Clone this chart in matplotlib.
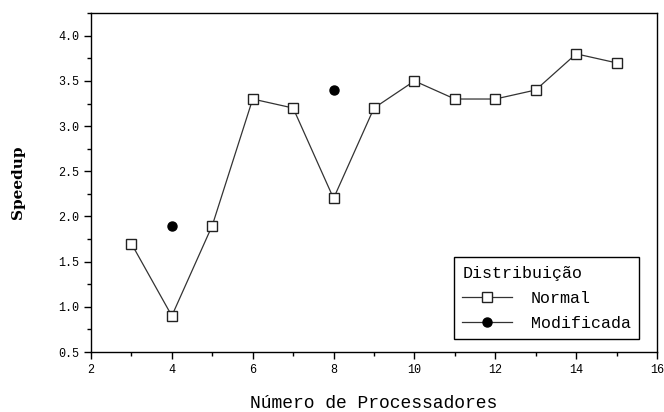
import matplotlib
matplotlib.use("Agg")
import matplotlib.pyplot as plt
from matplotlib.ticker import MultipleLocator

procs_normal = [3, 4, 5, 6, 7, 8, 9, 10, 11, 12, 13, 14, 15]
speedup_normal = [1.7, 0.9, 1.9, 3.3, 3.2, 2.2, 3.2, 3.5, 3.3, 3.3, 3.4, 3.8, 3.7]
procs_mod = [4, 8]
speedup_mod = [1.9, 3.4]

MONO = "Liberation Mono"

fig = plt.figure(figsize=(6.64, 4.12), dpi=100)
ax = fig.add_axes([0.137, 0.1456, 0.8525, 0.8224])

ax.plot(procs_normal, speedup_normal, color="#333333", lw=0.9,
        marker="s", ms=6.5, mfc="white", mec="#222222", mew=1.0,
        label="Normal")
ax.plot(procs_mod, speedup_mod, color="#333333", lw=0.9, ls="none",
        marker="o", ms=6.5, mfc="black", mec="black", label="Modificada")

ax.set_xlim(2, 16)
ax.set_ylim(0.5, 4.25)
ax.xaxis.set_major_locator(MultipleLocator(2))
ax.xaxis.set_minor_locator(MultipleLocator(1))
ax.yaxis.set_major_locator(MultipleLocator(0.5))
ax.yaxis.set_minor_locator(MultipleLocator(0.25))
ax.tick_params(which="both", direction="out", top=False, right=False,
               labelsize=8.5, width=1)
ax.tick_params(which="major", length=5)
ax.tick_params(which="minor", length=3)
for lbl in ax.get_xticklabels() + ax.get_yticklabels():
    lbl.set_family(MONO)
for s in ax.spines.values():
    s.set_linewidth(1.0)

ax.set_xlabel("Número de Processadores", family=MONO, fontsize=13,
              labelpad=14)
ax.set_ylabel("Speedup", family="DejaVu Serif", fontsize=11,
              fontweight="bold", labelpad=24)

leg = ax.legend(loc="lower right", bbox_to_anchor=(0.968, 0.038),
                borderaxespad=0,
                title="Distribuição", alignment="left", frameon=True,
                fancybox=False, edgecolor="black", framealpha=1,
                prop={"family": MONO, "size": 12},
                title_fontproperties={"family": MONO, "size": 12},
                handlelength=3.0, handletextpad=1.1, borderpad=0.5,
                labelspacing=0.6)
leg.get_frame().set_linewidth(1.0)
for h in leg.legend_handles:
    h.set_linestyle("-")

fig.savefig("out.png", dpi=100)
